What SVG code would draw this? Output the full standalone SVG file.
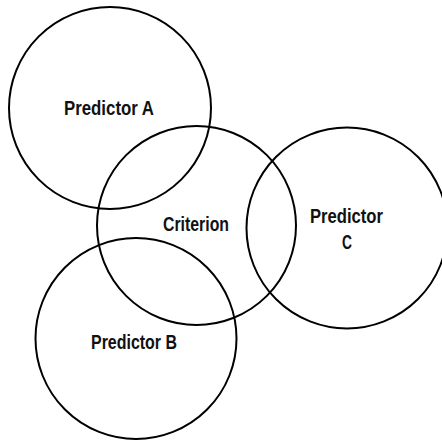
<svg xmlns="http://www.w3.org/2000/svg" width="442" height="441" viewBox="0 0 442 441">
  <style>
    .c { fill: none; stroke: #000; stroke-width: 2; }
    .t { font-family: "Liberation Sans", Arial, sans-serif; font-size: 20.5px; font-weight: bold; fill: #111; text-anchor: middle; }
  </style>
  <rect width="442" height="441" fill="#fff"/>
  <g id="predictor-a">
    <circle class="c" cx="110" cy="108" r="101"/>
    <text class="t" x="109" y="115" textLength="90" lengthAdjust="spacingAndGlyphs">Predictor A</text>
  </g>
  <g id="criterion">
    <circle class="c" cx="196.5" cy="225.5" r="99.5"/>
    <text class="t" x="196" y="231" textLength="66" lengthAdjust="spacingAndGlyphs">Criterion</text>
  </g>
  <g id="predictor-c">
    <circle class="c" cx="347" cy="228" r="100.5"/>
    <text class="t" x="346.5" y="223" textLength="73" lengthAdjust="spacingAndGlyphs">Predictor</text>
    <text class="t" x="347" y="249" textLength="10" lengthAdjust="spacingAndGlyphs">C</text>
  </g>
  <g id="predictor-b">
    <circle class="c" cx="136" cy="338.5" r="100.5"/>
    <text class="t" x="134" y="349" textLength="86" lengthAdjust="spacingAndGlyphs">Predictor B</text>
  </g>
  <g id="connectors"></g>
</svg>
